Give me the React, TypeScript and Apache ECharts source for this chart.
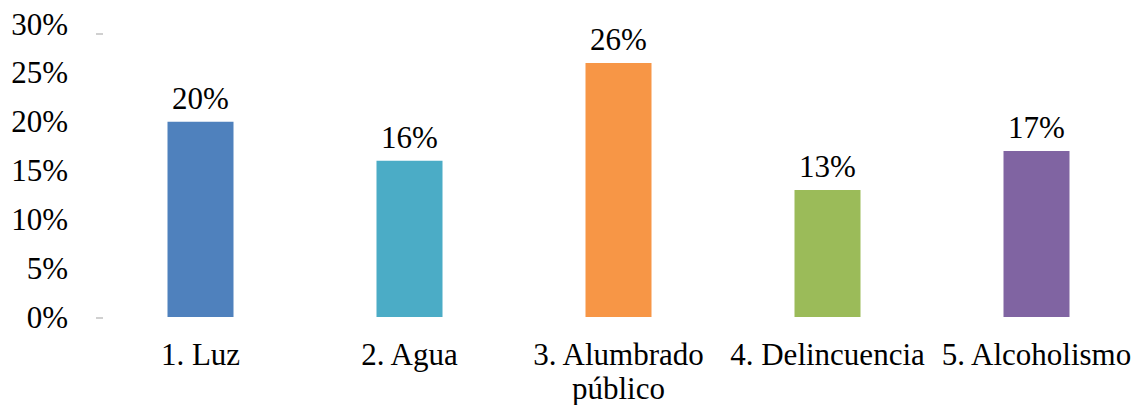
import React, { useEffect, useRef } from "react";
import * as echarts from "echarts";

const categories = ["1. Luz", "2. Agua", "3. Alumbrado\npúblico", "4. Delincuencia", "5. Alcoholismo"];
const values = [20, 16, 26, 13, 17];
const colors = ["#4F81BD", "#4BACC6", "#F79646", "#9BBB59", "#8064A2"];
const yTicks = { min: 0, max: 30, interval: 5 };

export default function App() {
  const ref = useRef<HTMLDivElement>(null);
  useEffect(() => {
    if (!ref.current) return;
    const chart = echarts.init(ref.current, undefined, { renderer: "svg" });
    const font = "Liberation Serif";
    chart.setOption({
      animation: false,
      backgroundColor: "#ffffff",
      textStyle: { fontFamily: font },
      grid: { left: 96, right: -3, top: 24, bottom: 87, containLabel: false },
      xAxis: {
        type: "category",
        data: categories,
        axisLine: { show: false },
        axisTick: { show: false },
        axisLabel: {
          interval: 0,
          color: "#000",
          fontFamily: font,
          fontSize: 31,
          lineHeight: 34,
          margin: 20,
        },
      },
      yAxis: {
        type: "value",
        min: yTicks.min,
        max: yTicks.max,
        interval: yTicks.interval,
        splitLine: { show: false },
        axisLine: { show: false },
        axisTick: { show: false },
        axisLabel: {
          formatter: "{value}%",
          color: "#000",
          fontFamily: font,
          fontSize: 31,
          margin: 28,
        },
      },
      graphic: [
        { type: "rect", shape: { x: 96, y: 33, width: 7, height: 2 }, style: { fill: "#d0d0d0" } },
        { type: "rect", shape: { x: 96, y: 317, width: 7, height: 2 }, style: { fill: "#d0d0d0" } },
      ],
      series: [
        {
          type: "bar",
          barWidth: 66,
          data: values.map((v, i) => ({ value: v, itemStyle: { color: colors[i] } })),
          label: {
            show: true,
            position: "top",
            distance: 8,
            formatter: "{c}%",
            color: "#000",
            fontFamily: font,
            fontSize: 31,
          },
        },
      ],
    });
    return () => chart.dispose();
  }, []);
  return <div ref={ref} style={{ position: "fixed", left: 0, top: 0, width: 1141, height: 405 }} />;
}
